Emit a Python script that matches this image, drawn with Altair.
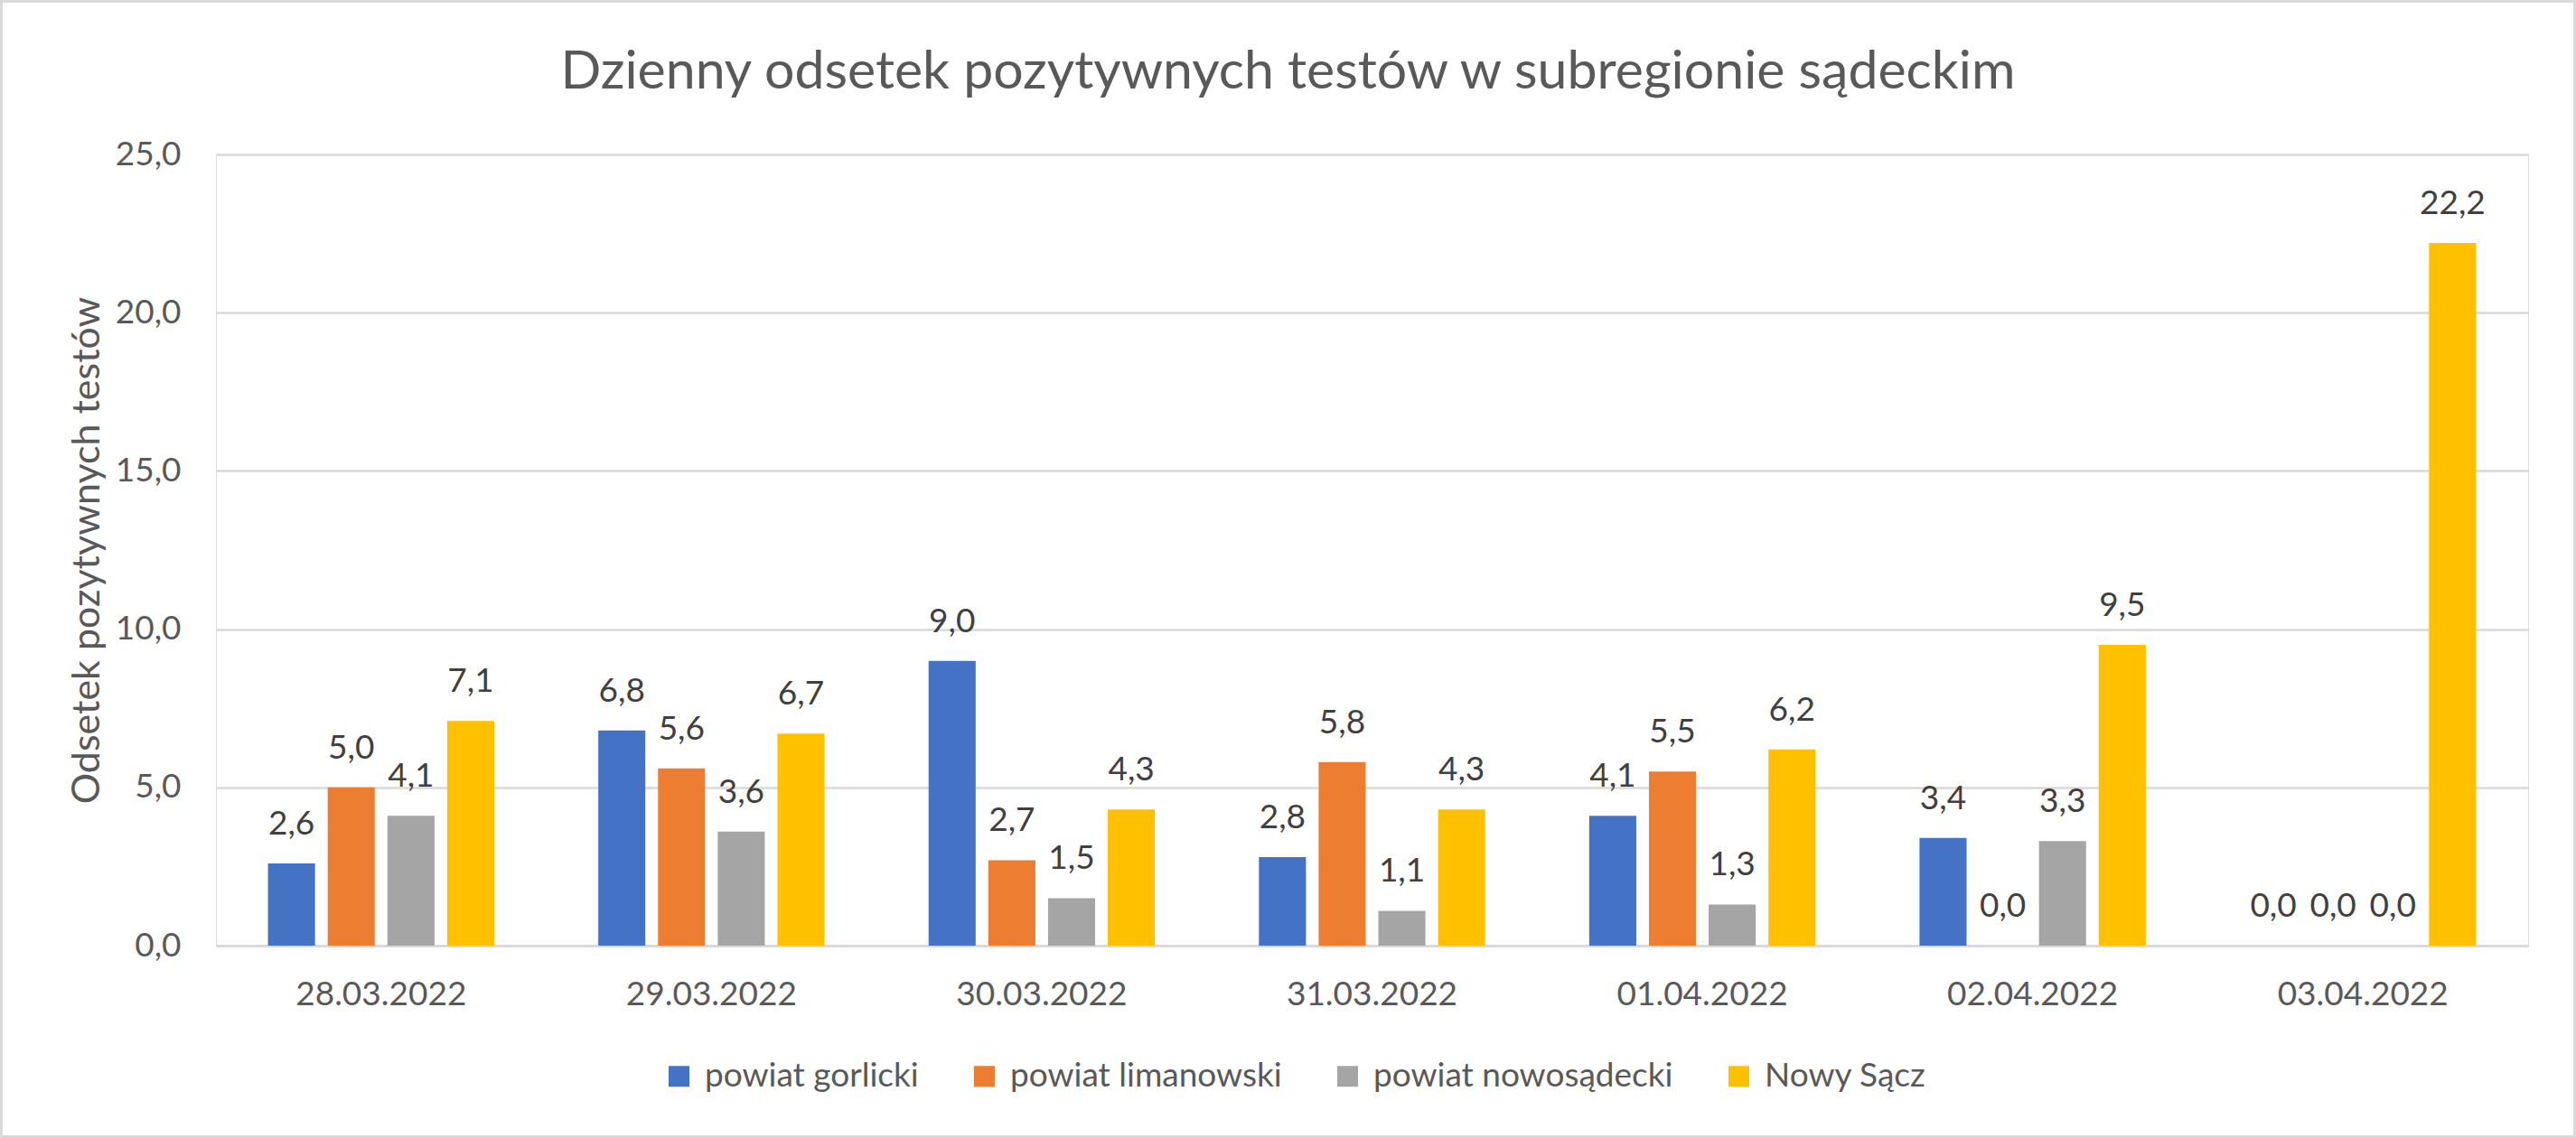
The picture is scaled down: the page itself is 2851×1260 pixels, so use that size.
import altair as alt
import pandas as pd

dates = ["28.03.2022", "29.03.2022", "30.03.2022", "31.03.2022",
         "01.04.2022", "02.04.2022", "03.04.2022"]
series = ["powiat gorlicki", "powiat limanowski", "powiat nowosądecki", "Nowy Sącz"]
gorlicki = [2.6, 6.8, 9.0, 2.8, 4.1, 3.4, 0.0]
limanowski = [5.0, 5.6, 2.7, 5.8, 5.5, 0.0, 0.0]
nowosadecki = [4.1, 3.6, 1.5, 1.1, 1.3, 3.3, 0.0]
nowy_sacz = [7.1, 6.7, 4.3, 4.3, 6.2, 9.5, 22.2]
colors = ["#4472C4", "#ED7D31", "#A5A5A5", "#FFC000"]
y_ticks = [0, 5, 10, 15, 20, 25]
chart_title = "Dzienny odsetek pozytywnych testów w subregionie sądeckim"
y_title = "Odsetek pozytywnych testów"

rows = []
for s, vals in zip(series, [gorlicki, limanowski, nowosadecki, nowy_sacz]):
    for d, v in zip(dates, vals):
        rows.append({"date": d, "series": s, "value": v,
                     "label": f"{v:.1f}".replace(".", ",")})
df = pd.DataFrame(rows)

W, H = 2559, 876
PL, PT = 239, 171
PR = 2851 - PL - W
PB = 1260 - PT - H
FONT = "Lato"
GRID = "#D9D9D9"
TXT = "#595959"

base = alt.Chart(df).encode(
    x=alt.X("date:N", sort=dates,
            scale=alt.Scale(paddingInner=0.315, paddingOuter=0.1575),
            axis=alt.Axis(title=None, labelAngle=0, ticks=False, domain=True,
                          domainColor=GRID, domainWidth=2.5, labelPadding=36,
                          labelFontSize=37, labelColor=TXT, labelFont=FONT,
                          labelLimit=0, grid=False)),
    xOffset=alt.XOffset("series:N", sort=series,
                        scale=alt.Scale(paddingInner=0.212, paddingOuter=0)),
)

bars = base.mark_bar().encode(
    y=alt.Y("value:Q", scale=alt.Scale(domain=[0, 25], nice=False),
            axis=alt.Axis(values=y_ticks,
                          labelExpr="replace(format(datum.value, '.1f'), '.', ',')",
                          title=y_title, titleFont=FONT, titleFontSize=43,
                          titleColor=TXT, titleFontWeight="normal",
                          titleAngle=270, titleX=-130, titleY=H / 2,
                          titleAlign="center", titleBaseline="alphabetic",
                          domain=False, ticks=False, labelPadding=39,
                          labelFontSize=37, labelFont=FONT, labelColor=TXT,
                          labelLimit=0, grid=True, gridColor=GRID, gridWidth=2.5)),
    color=alt.Color("series:N", sort=series,
                    scale=alt.Scale(domain=series, range=colors),
                    legend=alt.Legend(title=None, orient="none", legendX=494,
                                      legendY=1002, direction="horizontal",
                                      symbolType="square", symbolSize=529,
                                      symbolStrokeWidth=0, labelFontSize=37,
                                      labelFont=FONT, labelColor=TXT,
                                      labelOffset=10, columnPadding=54,
                                      labelLimit=0, padding=0)),
)

labels = base.mark_text(baseline="alphabetic", dy=-32, fontSize=37, font=FONT,
                        color="#404040").encode(
    y=alt.Y("value:Q"), text="label:N")

border = alt.Chart(pd.DataFrame({"a": [0]})).mark_rect(
    fillOpacity=0, stroke=GRID, strokeWidth=3).encode(
    x=alt.value(-PL + 1.5), x2=alt.value(W + PR - 1.5),
    y=alt.value(-PT + 1.5), y2=alt.value(H + PB - 1.5))

chart = alt.layer(bars, labels, border).properties(
    width=W, height=H,
    title=alt.Title(chart_title, font=FONT, fontSize=59, color=TXT,
                    fontWeight="normal", anchor="middle", dx=-93, offset=-110),
    autosize="none",
    padding={"left": PL, "top": PT, "right": PR, "bottom": PB},
).configure_view(stroke=None).configure(background="white")

chart.save("out.html", embed_options={"renderer": "svg", "actions": False})
